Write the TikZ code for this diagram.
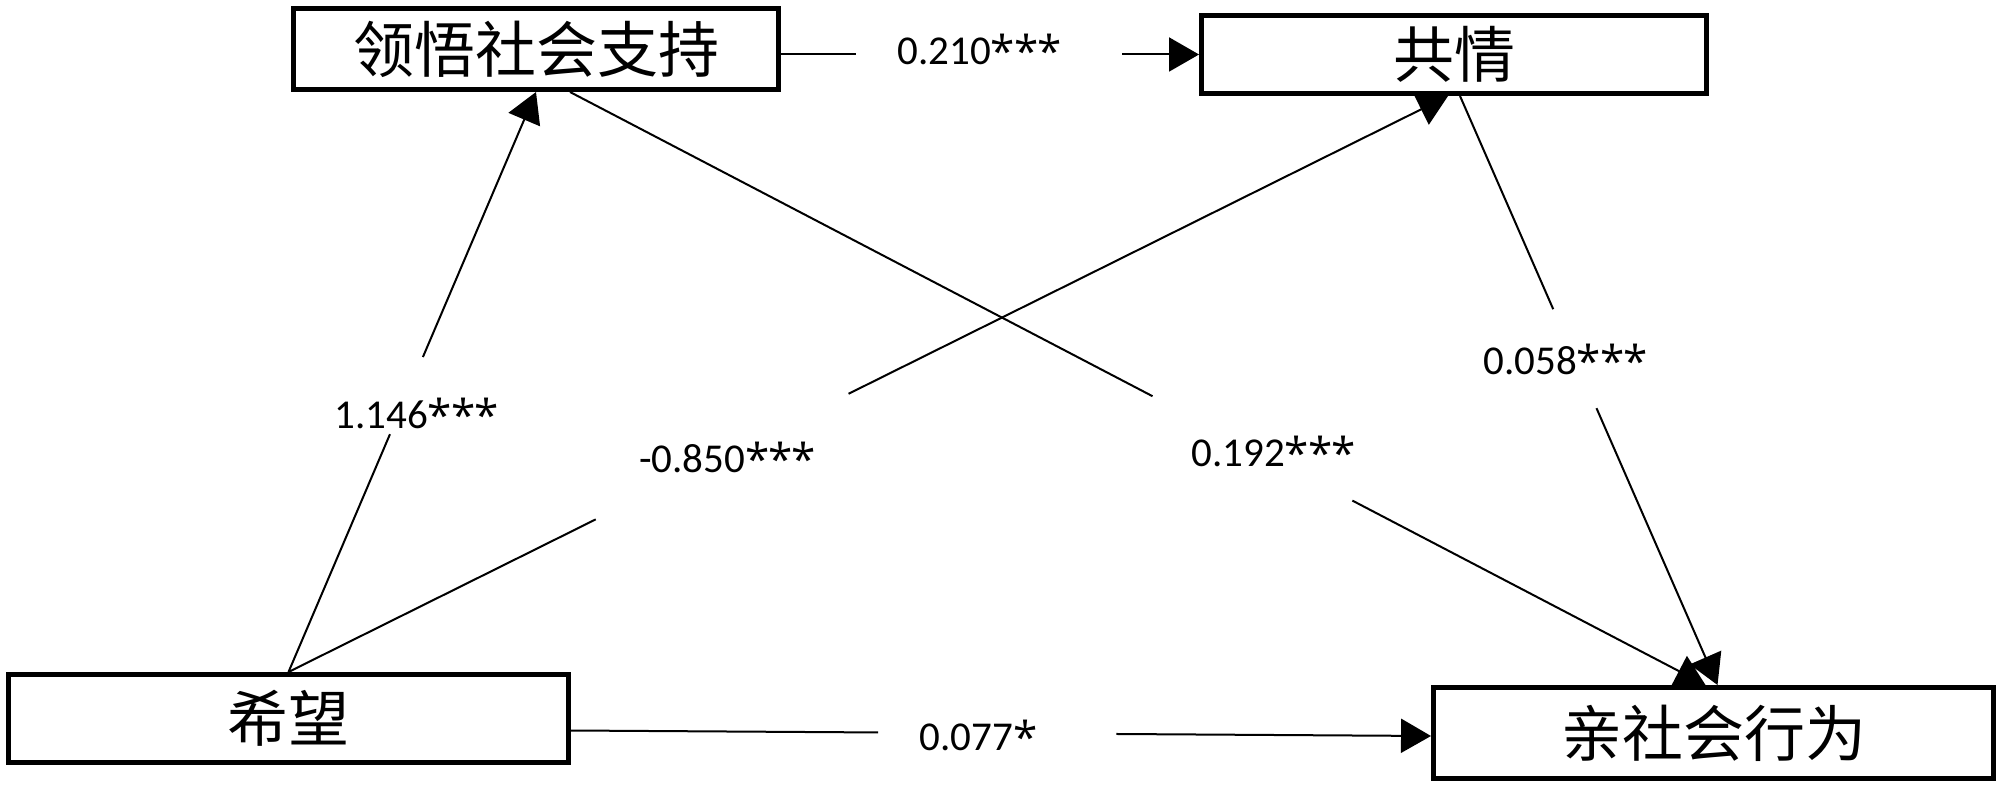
\documentclass[tikz,border=0pt]{standalone}
\usepackage{fontspec}
\setmainfont{Carlito}
\newfontfamily\cjk{Noto Sans CJK SC}
\newfontfamily\astfont{Open Sans}
\usetikzlibrary{arrows.meta,calc}
\newcommand\sigstar{\raisebox{-1.5pt}{\astfont\fontsize{22pt}{26pt}\selectfont *}\kern-0.5pt}
\begin{document}
\begin{tikzpicture}[x=0.5pt,y=-0.5pt,
  box/.style={draw,line width=2.5pt,inner sep=0pt,font=\cjk\fontsize{30.5pt}{36pt}\selectfont},
  conn/.style={line width=1pt},
  arr/.style={conn,-{Triangle[length=15pt,width=17pt]}},
  lbl/.style={font=\fontsize{20.5pt}{24pt}\selectfont,inner sep=0pt}]
\useasboundingbox[fill=white] (0,0) rectangle (2000,790);
% boxes
\node[box,minimum width=242.5pt,minimum height=40.5pt] (pss) at (536,49) {领悟社会支持};
\node[box,minimum width=252.5pt,minimum height=39pt] (emp) at (1454,54.5) {共情};
\node[box,minimum width=280pt,minimum height=44pt] (hope) at (288.5,718.5) {希望};
\node[box,minimum width=280pt,minimum height=45.5pt] (pro) at (1713.5,733) {亲社会行为};
% labels
\node[lbl] (l1) at (979,51) {0.210\sigstar\sigstar\sigstar};
\node[lbl] (l2) at (416,415) {1.146\sigstar\sigstar\sigstar};
\node[lbl] (l3) at (727,459) {-0.850\sigstar\sigstar\sigstar};
\node[lbl] (l4) at (1273,453) {0.192\sigstar\sigstar\sigstar};
\node[lbl] (l5) at (1565,361) {0.058\sigstar\sigstar\sigstar};
\node[lbl] (l6) at (978,737) {0.077\sigstar};
% pss -> emp
\path (pss.east |- emp.west) -- (emp.west) coordinate[pos=0.18] (g1a) coordinate[pos=0.816] (g1b);
\draw[conn] (pss.east |- emp.west) -- (g1a);
\draw[arr] (g1b) -- (emp.west);
% hope -> pss
\path (hope.north) -- (pss.south) coordinate[pos=0.41] (g2a) coordinate[pos=0.543] (g2b);
\draw[conn] (hope.north) -- (g2a);
\draw[arr] (g2b) -- (pss.south);
% hope -> emp
\path (hope.north) -- ([xshift=-3pt]emp.south) coordinate[pos=0.265] (g3a) coordinate[pos=0.483] (g3b);
\draw[conn] (hope.north) -- (g3a);
\draw[arr] (g3b) -- ([xshift=-3pt]emp.south);
% pss -> pro
\path ([xshift=17pt]pss.south) -- ([xshift=-4pt]pro.north) coordinate[pos=0.513] (g4a) coordinate[pos=0.689] (g4b);
\draw[conn] ([xshift=17pt]pss.south) -- (g4a);
\draw[arr] (g4b) -- ([xshift=-4pt]pro.north);
% emp -> pro
\path ([xshift=3pt]emp.south) -- ([xshift=2pt]pro.north) coordinate[pos=0.362] (g5a) coordinate[pos=0.53] (g5b);
\draw[conn] ([xshift=3pt]emp.south) -- (g5a);
\draw[arr] (g5b) -- ([xshift=2pt]pro.north);
% hope -> pro
\path ([yshift=-6pt]hope.east) -- ([yshift=-1.5pt]pro.west) coordinate[pos=0.357] (g6a) coordinate[pos=0.634] (g6b);
\draw[conn] ([yshift=-6pt]hope.east) -- (g6a);
\draw[arr] (g6b) -- ([yshift=-1.5pt]pro.west);
\end{tikzpicture}
\end{document}
